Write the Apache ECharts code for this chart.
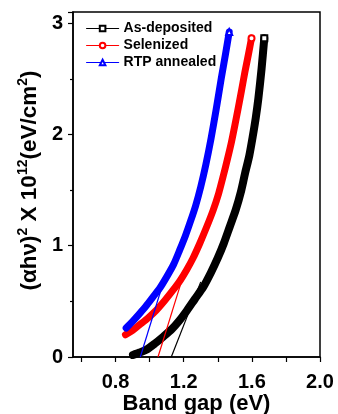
<!DOCTYPE html>
<html>
<head>
<meta charset="utf-8">
<script src="https://cdn.jsdelivr.net/npm/echarts@6.0.0/dist/echarts.min.js"></script>
<style>
  html, body { margin: 0; padding: 0; background: #fff; }
  #chart { width: 338px; height: 414px; }
</style>
</head>
<body>
<div id="chart"></div>
<script>
// Tauc plot: (αhν)^2 vs photon energy
const seriesNames = ['As-deposited', 'Selenized', 'RTP annealed'];

const asDeposited = [
  [0.902, 0.018], [0.94, 0.04], [0.98, 0.065], [1.03, 0.12], [1.078, 0.18],
  [1.13, 0.25], [1.176, 0.33], [1.22, 0.42], [1.265, 0.52], [1.315, 0.63],
  [1.36, 0.76], [1.40, 0.89], [1.435, 1.02], [1.47, 1.17], [1.505, 1.32],
  [1.535, 1.48], [1.56, 1.65], [1.585, 1.81], [1.605, 1.98], [1.623, 2.15],
  [1.638, 2.32], [1.657, 2.59], [1.673, 2.865]
];

const selenized = [
  [0.858, 0.20], [0.90, 0.24], [0.941, 0.29], [0.99, 0.35], [1.039, 0.42],
  [1.09, 0.51], [1.137, 0.60], [1.18, 0.69], [1.216, 0.78], [1.255, 0.89],
  [1.294, 1.02], [1.335, 1.17], [1.373, 1.32], [1.405, 1.47], [1.431, 1.62],
  [1.457, 1.78], [1.48, 1.93], [1.50, 2.08], [1.519, 2.23], [1.54, 2.40],
  [1.559, 2.56], [1.58, 2.72], [1.598, 2.865]
];

const rtpAnnealed = [
  [0.862, 0.26], [0.90, 0.32], [0.941, 0.39], [0.98, 0.46], [1.02, 0.54],
  [1.06, 0.62], [1.10, 0.72], [1.14, 0.83], [1.176, 0.96], [1.21, 1.09],
  [1.24, 1.22], [1.27, 1.36], [1.30, 1.53], [1.33, 1.73], [1.36, 1.96],
  [1.39, 2.22], [1.42, 2.50], [1.445, 2.72], [1.467, 2.92]
];

// linear extrapolation lines down to the energy axis
const fitAsDeposited = [[1.127, 0], [1.30, 0.675]];
const fitSelenized = [[1.049, 0], [1.195, 0.72]];
const fitRtp = [[0.945, 0], [1.088, 0.71]];

const xTickValues = [0.6, 0.8, 1.0, 1.2, 1.4, 1.6, 1.8, 2.0];
const xLabelValues = [0.8, 1.2, 1.6, 2.0];

const colors = ['#000000', '#ff0000', '#0000ff'];
const symbols = ['emptyRect', 'emptyCircle', 'emptyTriangle'];
const FONT = '"Liberation Sans", Arial, sans-serif';

// only the last point of each curve keeps its marker
function withEndMarker(points) {
  return points.map((p, i) => (i === points.length - 1 ? p : { value: p, symbol: 'none' }));
}

function curveSeries(name, points, idx) {
  return {
    name: name,
    type: 'line',
    data: withEndMarker(points),
    smooth: 0.25,
    symbol: symbols[idx],
    symbolSize: 6,
    showSymbol: true,
    showAllSymbol: true,
    itemStyle: { color: colors[idx], borderWidth: 1.5 },
    lineStyle: { color: colors[idx], width: idx === 0 ? 8 : 7, cap: 'round', join: 'round' },
    z: 3
  };
}

function fitSeries(points, idx) {
  return {
    type: 'line',
    data: points,
    symbol: 'none',
    lineStyle: { color: colors[idx], width: 1.2 },
    z: 4,
    silent: true
  };
}

const chart = echarts.init(document.getElementById('chart'));
chart.setOption({
  backgroundColor: '#fff',
  animation: false,
  textStyle: { fontFamily: FONT },
  grid: {
    left: 73, right: 18, top: 12, bottom: 57,
    outerBoundsMode: 'none',
    containLabel: false,
    show: true, borderColor: '#000', borderWidth: 1.5
  },
  legend: {
    data: seriesNames,
    orient: 'vertical',
    left: 86,
    top: 21,
    padding: 0,
    itemWidth: 32,
    itemHeight: 7,
    itemGap: 2,
    lineStyle: { width: 1.2 },
    textStyle: { fontFamily: FONT, fontSize: 14, fontWeight: 'bold', color: '#000', lineHeight: 15 }
  },
  xAxis: {
    type: 'value',
    min: 0.55,
    max: 2.0,
    name: 'Band gap (eV)',
    nameLocation: 'middle',
    nameGap: 36,
    nameMoveOverlap: false,
    nameTextStyle: { fontFamily: FONT, fontSize: 22, fontWeight: 'bold', color: '#000' },
    axisLine: { lineStyle: { color: '#000', width: 1.5 } },
    axisTick: { length: 5, customValues: xTickValues, lineStyle: { color: '#000', width: 1.2 } },
    axisLabel: {
      customValues: xLabelValues,
      formatter: v => v.toFixed(1),
      margin: 15,
      fontFamily: FONT, fontSize: 20, fontWeight: 'bold', color: '#000'
    },
    splitLine: { show: false }
  },
  yAxis: {
    type: 'value',
    min: 0,
    max: 3.1,
    interval: 1,
    name: '{m|(αhν)}{s|2}{m| X 10}{s|12}{m|(eV/cm}{s|2}{m|)}',
    nameLocation: 'middle',
    nameRotate: 90,
    nameGap: 29,
    nameTextStyle: {
      padding: [0, 0, 0, 8],
      rich: {
        m: { fontFamily: FONT, fontSize: 22.5, fontWeight: 'bold', color: '#000', lineHeight: 26 },
        s: { fontFamily: FONT, fontSize: 14, fontWeight: 'bold', color: '#000', verticalAlign: 'top', lineHeight: 26 }
      }
    },
    axisLine: { show: true, lineStyle: { color: '#000', width: 1.5 } },
    axisTick: { show: true, length: 5, lineStyle: { color: '#000', width: 1.2 } },
    minorTick: { show: true, splitNumber: 2, length: 3, lineStyle: { color: '#000', width: 1.2 } },
    axisLabel: {
      formatter: v => String(Math.round(v)),
      margin: 10,
      fontFamily: FONT, fontSize: 20, fontWeight: 'bold', color: '#000'
    },
    splitLine: { show: false }
  },
  series: [
    curveSeries(seriesNames[0], asDeposited, 0),
    curveSeries(seriesNames[1], selenized, 1),
    curveSeries(seriesNames[2], rtpAnnealed, 2),
    fitSeries(fitAsDeposited, 0),
    fitSeries(fitSelenized, 1),
    fitSeries(fitRtp, 2)
  ]
});
</script>
</body>
</html>
